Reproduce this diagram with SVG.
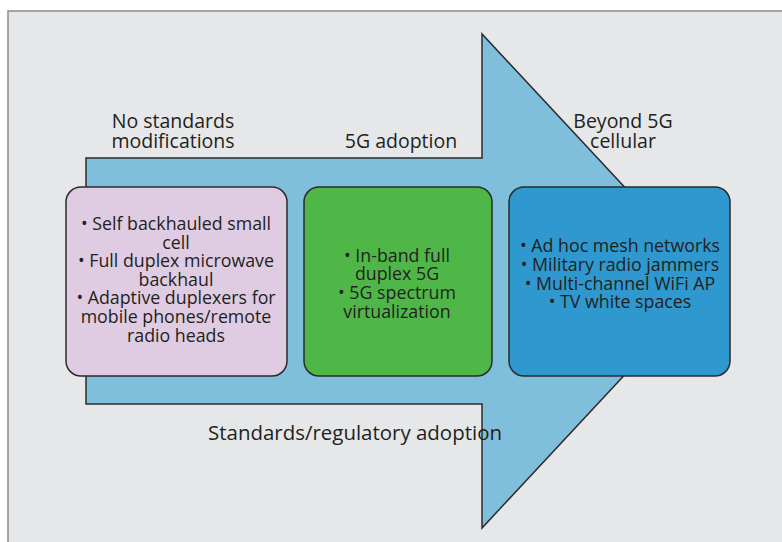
<svg xmlns="http://www.w3.org/2000/svg" width="782" height="542" viewBox="0 0 782 542">
<style>
.t{font-family:"Open Sans","Noto Sans",sans-serif;font-size:19.5px;fill:#231f20;text-anchor:middle}
.b{font-family:"Open Sans","Noto Sans",sans-serif;font-size:17.8px;fill:#231f20;text-anchor:middle}
.box{stroke:#2b2b2b;stroke-width:1.5}
</style>
<rect x="0" y="0" width="782" height="542" fill="#ffffff"/>
<rect x="8" y="11" width="790" height="550" fill="#e6e7e9" stroke="#8a8a8c" stroke-width="1.5"/>
<g id="connectors">
<path id="arrow" d="M86 158 H482 V34 L712 281 L482 528 V404 H86 Z" fill="#7fbfdc" stroke="#2b2b2b" stroke-width="1.5" stroke-linejoin="miter"/>
</g>
<g id="labels">
<text class="t" x="173" y="128">No standards</text>
<text class="t" x="173" y="148">modifications</text>
<text class="t" x="401" y="148">5G adoption</text>
<text class="t" x="623" y="128">Beyond 5G</text>
<text class="t" x="623" y="148">cellular</text>
<text class="t" x="355" y="440" textLength="294" lengthAdjust="spacingAndGlyphs">Standards/regulatory adoption</text>
</g>
<g id="box1">
<rect class="box" x="66" y="187" width="221" height="189" rx="15" fill="#dfcce2"/>
<text class="b" x="176" y="230">• Self backhauled small</text>
<text class="b" x="176" y="248.6">cell</text>
<text class="b" x="176" y="267.2">• Full duplex microwave</text>
<text class="b" x="176" y="285.8">backhaul</text>
<text class="b" x="176" y="304.4">• Adaptive duplexers for</text>
<text class="b" x="176" y="323">mobile phones/remote</text>
<text class="b" x="176" y="341.6">radio heads</text>
</g>
<g id="box2">
<rect class="box" x="304" y="187" width="188" height="189" rx="15" fill="#4eb748"/>
<text class="b" x="397" y="261.7">• In-band full</text>
<text class="b" x="397" y="280.3">duplex 5G</text>
<text class="b" x="397" y="298.9">• 5G spectrum</text>
<text class="b" x="397" y="317.5">virtualization</text>
</g>
<g id="box3">
<rect class="box" x="509" y="187" width="221" height="189" rx="15" fill="#2e98cf"/>
<text class="b" x="620" y="251.7">• Ad hoc mesh networks</text>
<text class="b" x="620" y="270.5">• Military radio jammers</text>
<text class="b" x="620" y="289.5">• Multi-channel WiFi AP</text>
<text class="b" x="620" y="308.3">• TV white spaces</text>
</g>
</svg>
